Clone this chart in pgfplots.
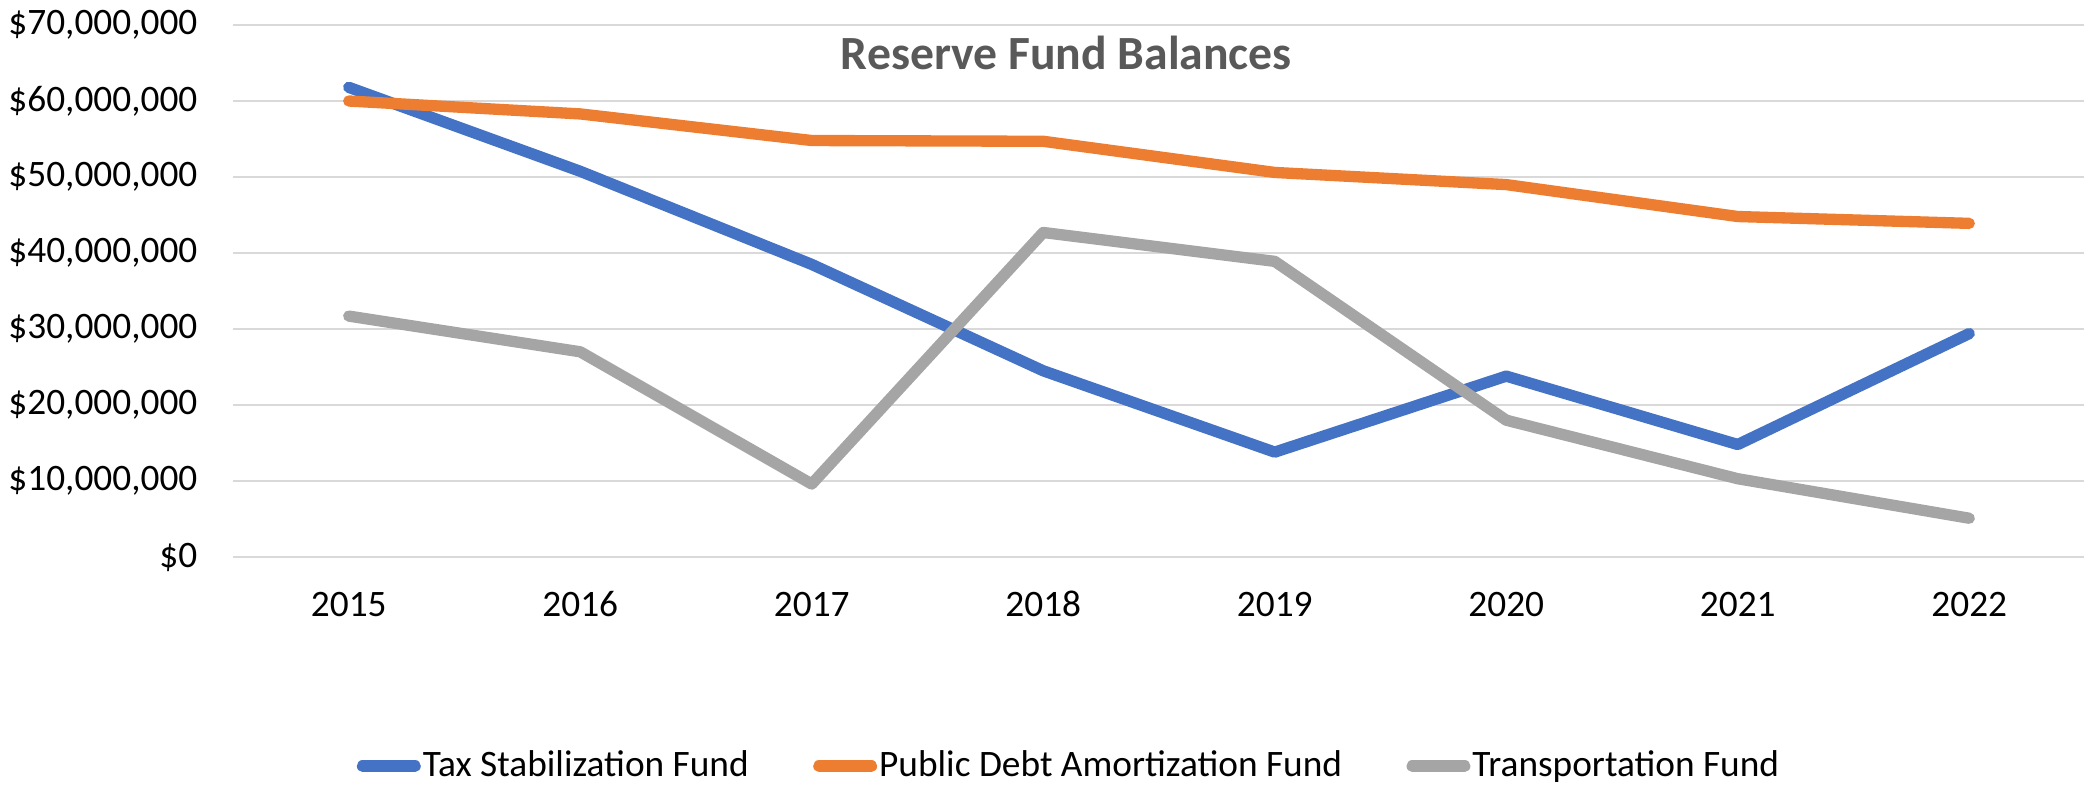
\documentclass[border=0pt]{standalone}
\usepackage{fontspec}
\setmainfont{Carlito}
\usepackage{pgfplots}
\pgfplotsset{compat=1.18}
\definecolor{cblue}{HTML}{4472C4}
\definecolor{corange}{HTML}{ED7D31}
\definecolor{cgray}{HTML}{A5A5A5}
\definecolor{gridgray}{HTML}{D9D9D9}
\definecolor{titlegray}{HTML}{595959}
\pgfplotstableread{
x tax pub trans
0 61800000 60000000 31700000
1 50750000 58300000 27000000
2 38500000 54800000 9600000
3 24500000 54700000 42700000
4 13800000 50600000 38900000
5 23800000 49000000 18000000
6 14800000 44800000 10300000
7 29400000 43900000 5100000
}\datatable
\begin{document}
\begin{tikzpicture}
\begin{axis}[
  scale only axis, width=555.6pt, height=159.6pt,
  xmin=-0.5, xmax=7.5, ymin=0, ymax=70000000,
  axis line style={draw=none},
  major tick length=0pt,
  ytick={0,10000000,20000000,30000000,40000000,50000000,60000000,70000000},
  yticklabels={{\$0},{\$10,000,000},{\$20,000,000},{\$30,000,000},{\$40,000,000},{\$50,000,000},{\$60,000,000},{\$70,000,000}},
  scaled y ticks=false,
  xtick={0,1,2,3,4,5,6,7},
  xticklabels={2015,2016,2017,2018,2019,2020,2021,2022},
  ymajorgrids, grid style={color=gridgray, line width=0.6pt},
  tick label style={font=\fontsize{11.2}{13.5}\selectfont, text=black},
  yticklabel style={anchor=east, inner sep=0pt, xshift=-10.5pt},
  xticklabel style={anchor=base, inner sep=0pt, yshift=-17.7pt},
  clip=false,
  legend columns=3,
  legend style={at={(0.4514,-0.393)}, anchor=center, draw=none, fill=none,
    font=\fontsize{11.2}{13.5}\selectfont, inner sep=0pt,
    nodes={inner sep=0.6pt, anchor=west},
    /tikz/every even column/.append style={column sep=18.7pt}},
  legend cell align=left,
  legend image code/.code={\draw[#1, line cap=round] (1.7pt,0pt) -- (17.5pt,0pt);},
  every axis plot/.append style={line width=3.4pt, line cap=round, line join=round},
]
\addplot[cblue, mark=none] table[x=x, y=tax] {\datatable};
\addlegendentry{Tax Stabilization Fund}
\addplot[corange, mark=none] table[x=x, y=pub] {\datatable};
\addlegendentry{Public Debt Amortization Fund}
\addplot[cgray, mark=none] table[x=x, y=trans] {\datatable};
\addlegendentry{Transportation Fund}
\node[font=\fontsize{14.3}{17}\selectfont\bfseries, text=titlegray] at (rel axis cs:0.450,0.947) {Reserve Fund Balances};
\end{axis}
\pgfresetboundingbox
\path[use as bounding box] (-69.9pt,-68.4pt) rectangle (555.3pt,167.1pt);
\end{tikzpicture}
\end{document}
